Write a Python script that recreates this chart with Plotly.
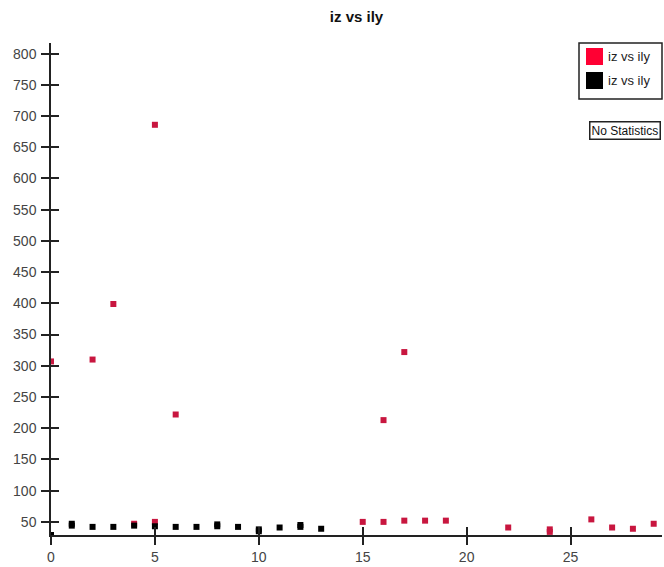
import plotly.graph_objects as go

# Data (ily on x, iz on y)
red_x = [0, 2, 3, 4, 5, 5, 6, 15, 16, 16, 17, 17, 18, 19, 22, 24, 24, 26, 27, 28, 29]
red_y = [307, 310, 399, 47, 686, 50, 222, 50, 50, 213, 52, 322, 52, 52, 41, 38, 34, 54, 41, 39, 47]

black_x = [0, 1, 1, 2, 3, 4, 5, 6, 7, 8, 8, 9, 10, 10, 11, 12, 12, 13]
black_y = [29, 44, 47, 42, 42, 44, 43, 42, 42, 43, 46, 42, 35, 38, 41, 42, 45, 39]

series_names = ["iz vs ily", "iz vs ily"]
series_colors = ["#ff0033", "#000000"]
title_text = "iz vs ily"
x_ticks = [0, 5, 10, 15, 20, 25]
y_ticks = list(range(50, 801, 50))

W, H = 664, 567
L, R, T, B = 51, 2, 43, 32
PW, PH = W - L - R, H - T - B


def px(xp):
    return (xp - L) / PW


def py(yp):
    return 1 - (yp - T) / PH


FONT = "Liberation Sans, Arial, sans-serif"

fig = go.Figure()

fig.add_trace(go.Scatter(x=red_x, y=red_y, mode="markers", showlegend=False,
                         marker=dict(symbol="square", size=6, color="#c8163f", line=dict(width=0))))
fig.add_trace(go.Scatter(x=black_x, y=black_y, mode="markers", showlegend=False,
                         marker=dict(symbol="square", size=6, color="#000000", line=dict(width=0))))

xr = [0, 29.4]
yr = [29, 817]
tickfont = dict(family=FONT, size=14, color="#444444")

fig.update_layout(
    width=W, height=H,
    margin=dict(l=L, r=R, t=T, b=B),
    paper_bgcolor="white", plot_bgcolor="white",
    showlegend=False,
    title=dict(text="<b>" + title_text + "</b>", x=0.5, xref="paper", xanchor="center",
               y=1 - 17 / H, yanchor="middle",
               font=dict(family=FONT, size=15, color="#111111")),
    xaxis=dict(range=xr, tickvals=x_ticks, ticks="outside", ticklen=8, tickwidth=1.5,
               tickcolor="#222222", showline=True, linecolor="#222222", linewidth=1.5,
               showgrid=False, zeroline=False, tickfont=tickfont),
    yaxis=dict(range=yr, tickvals=y_ticks, ticks="outside", ticklen=8, tickwidth=1.5,
               tickcolor="#222222", showline=True, linecolor="#222222", linewidth=1.5,
               showgrid=False, zeroline=False, tickfont=tickfont, ticklabelstandoff=2),
    xaxis2=dict(range=xr, tickvals=x_ticks, ticks="inside", ticklen=8, tickwidth=1.5,
                tickcolor="#222222", showticklabels=False, showgrid=False, zeroline=False,
                overlaying="x", anchor="y2", side="bottom"),
    yaxis2=dict(range=yr, tickvals=y_ticks, ticks="inside", ticklen=8, tickwidth=1.5,
                tickcolor="#222222", showticklabels=False, showgrid=False, zeroline=False,
                overlaying="y", anchor="x2", side="left"),
)

fig.add_trace(go.Scatter(x=[None], y=[None], xaxis="x2", yaxis="y2", showlegend=False, hoverinfo="skip"))

# custom legend box
shapes = [dict(type="rect", xref="paper", yref="paper", x0=px(579), x1=px(662), y0=py(43), y1=py(99),
               line=dict(color="#222222", width=1.5), fillcolor="white", layer="above")]
for i, (name, col) in enumerate(zip(series_names, series_colors)):
    top = 48 + i * 24
    shapes.append(dict(type="rect", xref="paper", yref="paper", x0=px(586), x1=px(603),
                       y0=py(top), y1=py(top + 17), line=dict(width=0), fillcolor=col, layer="above"))
    fig.add_annotation(text=name, xref="paper", yref="paper", x=px(606), xanchor="left",
                       y=py(top + 8.5), yanchor="middle", showarrow=False,
                       font=dict(family=FONT, size=13, color="#222222"))
fig.update_layout(shapes=shapes)

fig.add_annotation(text="No Statistics", xref="paper", yref="paper",
                   x=px(661), xanchor="right", y=py(130.5), yanchor="middle",
                   showarrow=False, bordercolor="#222222", borderwidth=1.5, borderpad=1, bgcolor="white",
                   font=dict(family=FONT, size=12, color="#111111"))

fig.write_html("out.html")
